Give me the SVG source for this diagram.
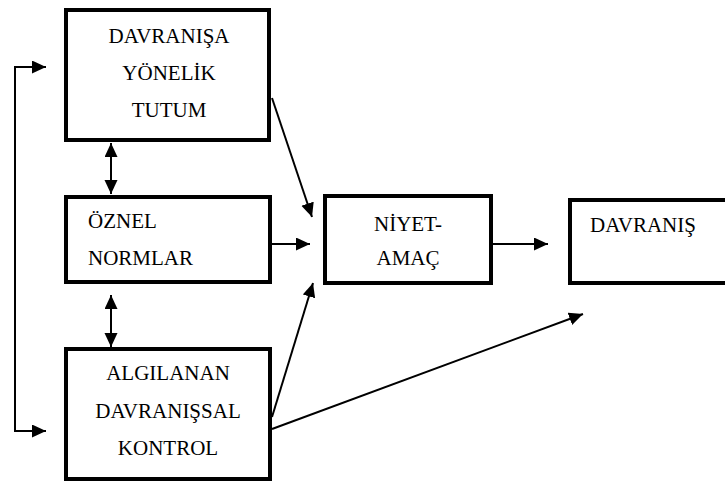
<svg xmlns="http://www.w3.org/2000/svg" width="725" height="483" viewBox="0 0 725 483">
<style>
.box{fill:#fff;stroke:#000;stroke-width:4}
.c{text-anchor:middle}
.ln{fill:none;stroke:#000;stroke-width:2}
</style>
<defs>
<marker id="ah" markerUnits="userSpaceOnUse" markerWidth="15" markerHeight="14" refX="14" refY="6.5" orient="auto-start-reverse">
<path d="M0,0 L14,6.5 L0,13 z" fill="#000"/>
</marker>
</defs>
<rect width="725" height="483" fill="#fff"/>
<g font-family="'Liberation Serif', 'Times New Roman', serif" font-size="21" fill="#000">
<g id="tutum">
<rect class="box" x="66" y="10" width="203" height="130"/>
<text class="c" x="169" y="43">DAVRANIŞA</text>
<text class="c" x="169" y="80">YÖNELİK</text>
<text class="c" x="169" y="117">TUTUM</text>
</g>
<g id="normlar">
<rect class="box" x="66" y="197" width="204" height="85"/>
<text x="88" y="228">ÖZNEL</text>
<text x="88" y="265">NORMLAR</text>
</g>
<g id="kontrol">
<rect class="box" x="66" y="349" width="204" height="130"/>
<text class="c" x="168" y="380">ALGILANAN</text>
<text class="c" x="168" y="418">DAVRANIŞSAL</text>
<text class="c" x="168" y="455">KONTROL</text>
</g>
<g id="niyet">
<rect class="box" x="325" y="196" width="166" height="87"/>
<text class="c" x="408" y="231">NİYET-</text>
<text class="c" x="408" y="265">AMAÇ</text>
</g>
<g id="davranis">
<rect class="box" x="570" y="200" width="175" height="83"/>
<text class="c" x="643" y="232">DAVRANIŞ</text>
</g>
</g>
<g id="connectors">
<path class="ln" d="M46,67 H15 V431 H46" marker-start="url(#ah)" marker-end="url(#ah)"/>
<line class="ln" x1="111" y1="143" x2="111" y2="194" marker-start="url(#ah)" marker-end="url(#ah)"/>
<line class="ln" x1="111" y1="295" x2="111" y2="347" marker-start="url(#ah)" marker-end="url(#ah)"/>
<line class="ln" x1="272" y1="98" x2="312" y2="217" marker-end="url(#ah)"/>
<line class="ln" x1="272" y1="244" x2="310" y2="244" marker-end="url(#ah)"/>
<line class="ln" x1="272" y1="417" x2="313" y2="283" marker-end="url(#ah)"/>
<line class="ln" x1="272" y1="429" x2="583" y2="314" marker-end="url(#ah)"/>
<line class="ln" x1="493" y1="244" x2="548" y2="244" marker-end="url(#ah)"/>
</g>
</svg>
